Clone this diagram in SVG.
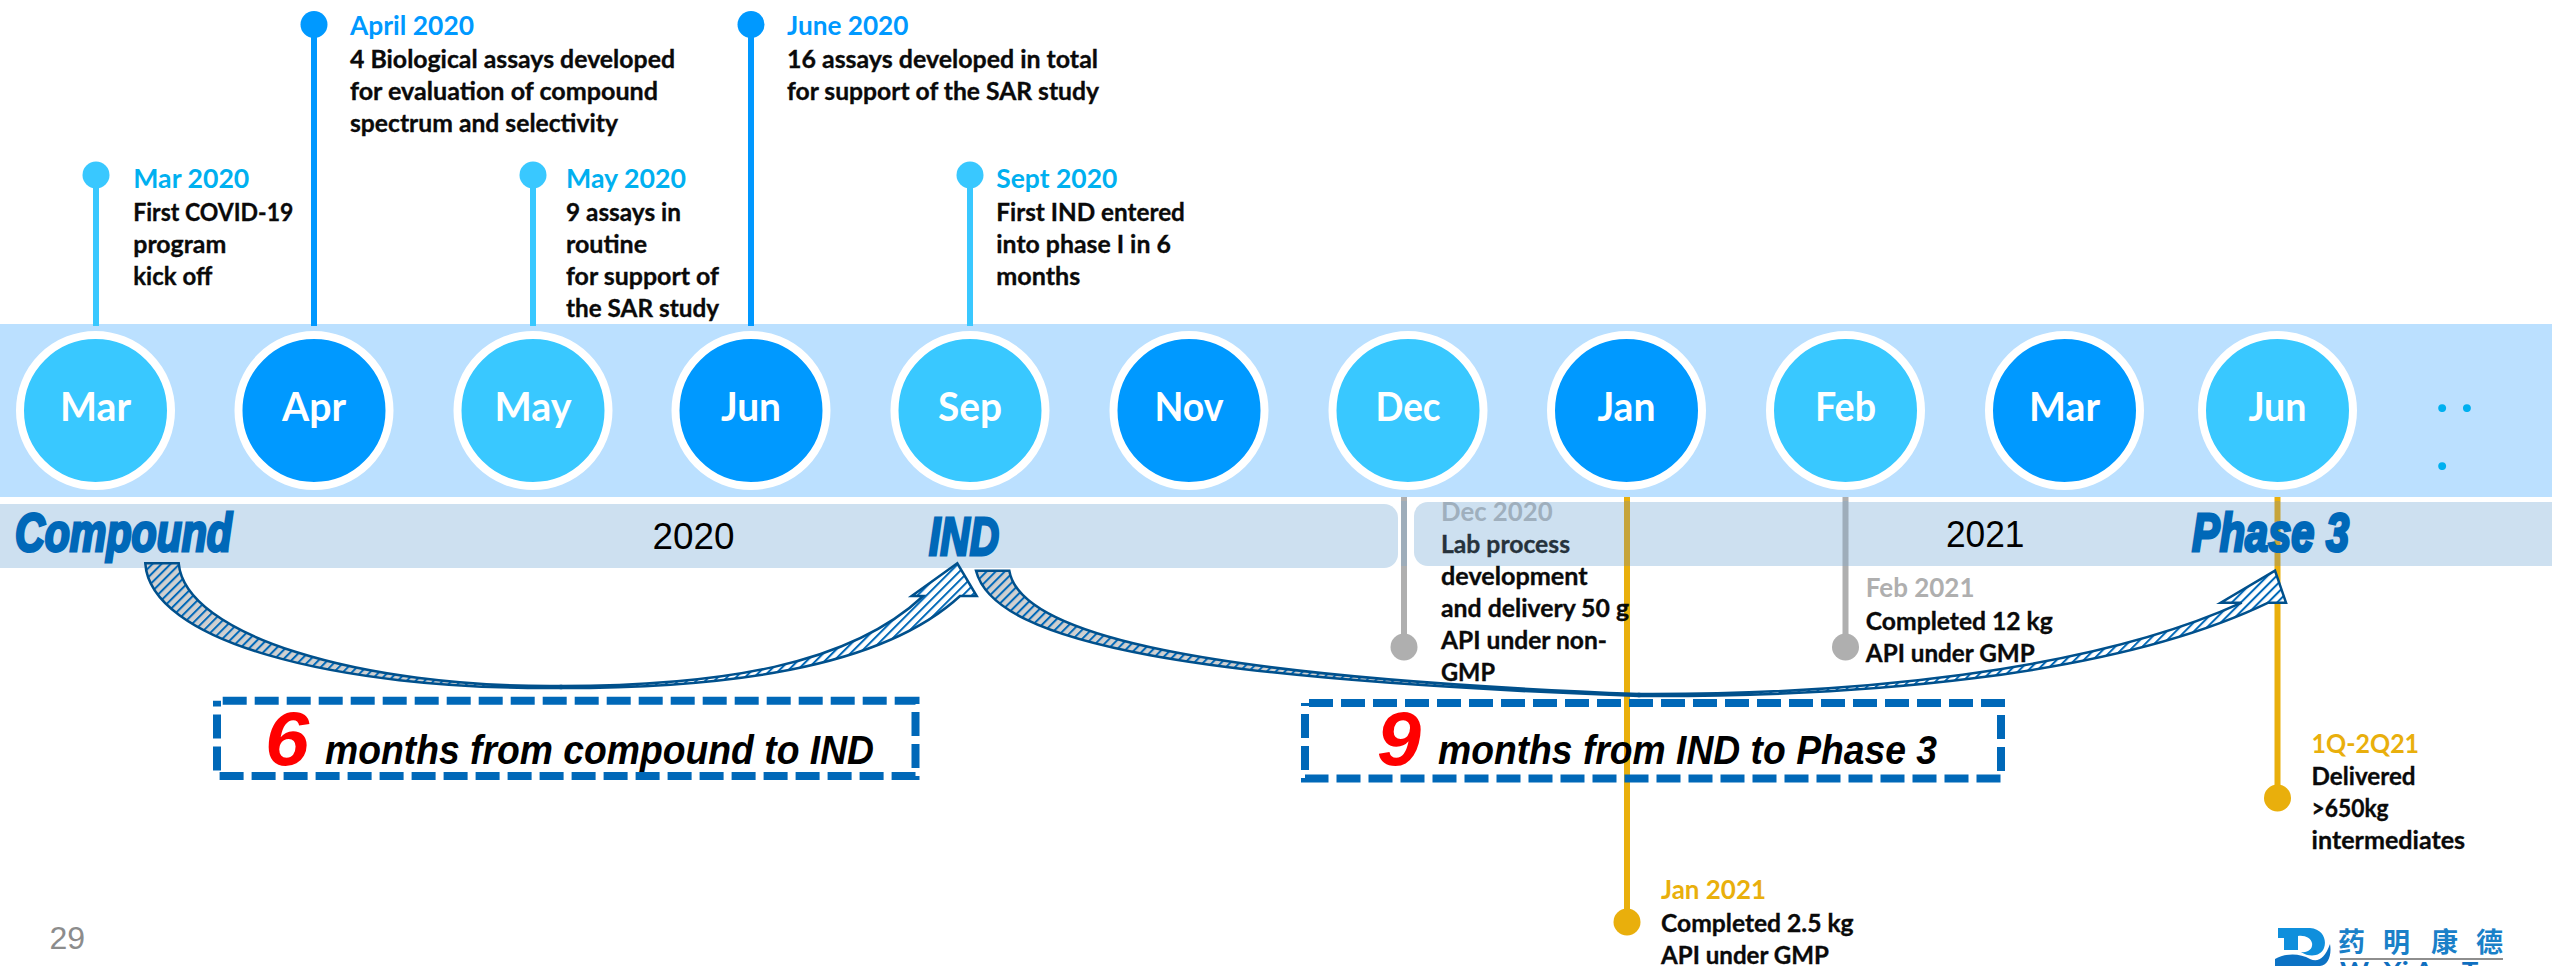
<svg xmlns="http://www.w3.org/2000/svg" width="2552" height="966" viewBox="0 0 2552 966">
<style>
text{font-family:"Lato","Carlito","Liberation Sans",sans-serif;font-weight:700}
.b{font-size:25.5px;fill:#0a0a0a;stroke:#0a0a0a;stroke-width:.35}
.d{font-size:27.5px}
.lt{fill:#00B0F0}.dk{fill:#0099FF}.gy{fill:#AFAFAF}.au{fill:#E9AF0C}
.inb{fill:#26323C;stroke:#26323C}.gyb{fill:#9FAFBD}
.m{font-size:41px;fill:#fff;text-anchor:middle}
.cl{fill:#39C8FF;stroke:#fff;stroke-width:8}.cd{fill:#0099FF;stroke:#fff;stroke-width:8}
.stem{fill:none;stroke-width:6}
.sl{stroke:#39C8FF}.sd{stroke:#0098FF}
.dl{fill:#39C8FF}.dd{fill:#0099FF}.dg{fill:#AFAFAF}.da{fill:#E9AF0C}
.ar{font-family:"Liberation Sans",Arial,sans-serif;font-weight:400}
.yr{font-family:"Liberation Sans",Arial,sans-serif;font-weight:400;font-size:37px;fill:#000}
.ms{font-family:"Liberation Sans",Arial,sans-serif;font-weight:700;font-style:italic;fill:#0068B8;stroke:#0068B8;stroke-width:3}
.big{font-family:"Liberation Sans",Arial,sans-serif;font-weight:700;font-style:italic;font-size:76px;fill:#FF0000}
.cap{font-family:"Liberation Sans",Arial,sans-serif;font-weight:700;font-style:italic;font-size:40px;fill:#000}
.box{fill:none;stroke:#0068B8;stroke-width:8;stroke-dasharray:24 8}
.arrG{fill:url(#hg);stroke:#00508C;stroke-width:2.5;stroke-linejoin:miter}
.arrW{fill:url(#hw);stroke:#00508C;stroke-width:2.5;stroke-linejoin:miter}
</style>
<defs>
<pattern id="hg" width="6.4" height="6.4" patternUnits="userSpaceOnUse" patternTransform="rotate(45)"><rect width="6.4" height="6.4" fill="#D0D0D0"/><rect width="2" height="6.4" fill="#0068B8"/></pattern>
<pattern id="hw" width="6.4" height="6.4" patternUnits="userSpaceOnUse" patternTransform="rotate(45)"><rect width="6.4" height="6.4" fill="#fff"/><rect width="2" height="6.4" fill="#0068B8"/></pattern>
<linearGradient id="sgy" gradientUnits="userSpaceOnUse" x1="0" y1="497" x2="0" y2="570"><stop offset="0.06" stop-color="#AFAFAF"/><stop offset="0.06" stop-color="#9EADBA"/><stop offset="0.95" stop-color="#9EADBA"/><stop offset="0.95" stop-color="#AFAFAF"/></linearGradient>
<linearGradient id="sau" gradientUnits="userSpaceOnUse" x1="0" y1="497" x2="0" y2="570"><stop offset="0.06" stop-color="#E9AF0C"/><stop offset="0.06" stop-color="#C6A43A"/><stop offset="0.95" stop-color="#C6A43A"/><stop offset="0.95" stop-color="#E9AF0C"/></linearGradient>
</defs>

<g id="bands">
<rect x="0" y="324" width="2552" height="173" fill="#BBE0FF"/>
<rect x="-20" y="504" width="1418" height="64" rx="14" fill="#CDE0F0"/>
<rect x="1414" y="502" width="1160" height="64" rx="14" fill="#CDE0F0"/>
</g>

<g id="connectors">
<path class="stem sl" d="M96,175V326"/>
<path class="stem sd" d="M314,24V326"/>
<path class="stem sl" d="M533,175V326"/>
<path class="stem sd" d="M751,24V326"/>
<path class="stem sl" d="M970,175V326"/>
<path class="stem" stroke="url(#sgy)" d="M1404,497V647"/>
<path class="stem" stroke="url(#sau)" d="M1627,497V922"/>
<path class="stem" stroke="url(#sgy)" d="M1845.5,497V647"/>
<path class="stem" stroke="url(#sau)" d="M2277.5,497V798"/>
<path class="arrG" d="M145.3,563.3C150,640 330,690 561,688L561,686C360,688 185,635 178.7,563.3Z"/>
<path class="arrW" d="M561,688C720,688 880,670 960,596H976.7L957.3,563.3L911.7,596H923.3C850,665 720,686 561,686Z"/>
<path class="arrG" d="M976,570.7C995,645 1200,680 1639,696L1639,694C1200,677 1020,635 1009.3,570.7Z"/>
<path class="arrW" d="M1639,696C1850,697 2110,679 2268.3,602.7H2286L2275,570.7L2220.7,602.7H2241.7C2090,672 1850,695 1639,694Z"/>
</g>

<g id="m-mar20"><circle class="cl" cx="95.5" cy="410.5" r="75.5"/><text class="m" x="95.5" y="421" textLength="71" lengthAdjust="spacingAndGlyphs">Mar</text></g>
<g id="m-apr20"><circle class="cd" cx="314" cy="410.5" r="75.5"/><text class="m" x="314" y="421" textLength="64" lengthAdjust="spacingAndGlyphs">Apr</text></g>
<g id="m-may20"><circle class="cl" cx="533" cy="410.5" r="75.5"/><text class="m" x="533" y="421" textLength="77" lengthAdjust="spacingAndGlyphs">May</text></g>
<g id="m-jun20"><circle class="cd" cx="751" cy="410.5" r="75.5"/><text class="m" x="751" y="421" textLength="60" lengthAdjust="spacingAndGlyphs">Jun</text></g>
<g id="m-sep20"><circle class="cl" cx="970" cy="410.5" r="75.5"/><text class="m" x="970" y="421" textLength="64" lengthAdjust="spacingAndGlyphs">Sep</text></g>
<g id="m-nov20"><circle class="cd" cx="1189" cy="410.5" r="75.5"/><text class="m" x="1189" y="421" textLength="69" lengthAdjust="spacingAndGlyphs">Nov</text></g>
<g id="m-dec20"><circle class="cl" cx="1408" cy="410.5" r="75.5"/><text class="m" x="1408" y="421" textLength="65" lengthAdjust="spacingAndGlyphs">Dec</text></g>
<g id="m-jan21"><circle class="cd" cx="1626.5" cy="410.5" r="75.5"/><text class="m" x="1626.5" y="421" textLength="58" lengthAdjust="spacingAndGlyphs">Jan</text></g>
<g id="m-feb21"><circle class="cl" cx="1845.5" cy="410.5" r="75.5"/><text class="m" x="1845.5" y="421" textLength="61" lengthAdjust="spacingAndGlyphs">Feb</text></g>
<g id="m-mar21"><circle class="cd" cx="2064.5" cy="410.5" r="75.5"/><text class="m" x="2064.5" y="421" textLength="71" lengthAdjust="spacingAndGlyphs">Mar</text></g>
<g id="m-jun21"><circle class="cl" cx="2277.5" cy="410.5" r="75.5"/><text class="m" x="2277.5" y="421" textLength="58" lengthAdjust="spacingAndGlyphs">Jun</text></g>

<g id="more"><text class="lt" font-size="52" x="2436 2450 2460.7" y="412">. .</text><text class="lt" font-size="52" x="2436" y="470">.</text></g>

<g id="e-mar20"><circle class="dl" cx="96" cy="175" r="13.5"/>
<text class="d lt" x="133.3" y="187.7" textLength="116" lengthAdjust="spacingAndGlyphs">Mar 2020</text>
<text class="b" x="133.3" y="220.7" textLength="160" lengthAdjust="spacingAndGlyphs">First COVID-19</text>
<text class="b" x="133.3" y="252.7" textLength="93" lengthAdjust="spacingAndGlyphs">program</text>
<text class="b" x="133.3" y="284.7" textLength="79" lengthAdjust="spacingAndGlyphs">kick off</text></g>

<g id="e-apr20"><circle class="dd" cx="314" cy="24.5" r="13.5"/>
<text class="d dk" x="350" y="35" textLength="124" lengthAdjust="spacingAndGlyphs">April 2020</text>
<text class="b" x="350" y="67.7" textLength="325" lengthAdjust="spacingAndGlyphs">4 Biological assays developed</text>
<text class="b" x="350" y="99.7" textLength="308" lengthAdjust="spacingAndGlyphs">for evaluation of compound</text>
<text class="b" x="350" y="131.7" textLength="268" lengthAdjust="spacingAndGlyphs">spectrum and selectivity</text></g>

<g id="e-may20"><circle class="dl" cx="533" cy="175" r="13.5"/>
<text class="d lt" x="566" y="187.7" textLength="120" lengthAdjust="spacingAndGlyphs">May 2020</text>
<text class="b" x="566" y="220.7" textLength="115" lengthAdjust="spacingAndGlyphs">9 assays in</text>
<text class="b" x="566" y="252.7" textLength="81" lengthAdjust="spacingAndGlyphs">routine</text>
<text class="b" x="566" y="284.7" textLength="153" lengthAdjust="spacingAndGlyphs">for support of</text>
<text class="b" x="566" y="316.7" textLength="153" lengthAdjust="spacingAndGlyphs">the SAR study</text></g>

<g id="e-jun20"><circle class="dd" cx="751" cy="24.5" r="13.5"/>
<text class="d dk" x="787" y="35" textLength="121.5" lengthAdjust="spacingAndGlyphs">June 2020</text>
<text class="b" x="787" y="67.7" textLength="311" lengthAdjust="spacingAndGlyphs">16 assays developed in total</text>
<text class="b" x="787" y="99.7" textLength="312" lengthAdjust="spacingAndGlyphs">for support of the SAR study</text></g>

<g id="e-sep20"><circle class="dl" cx="970" cy="175" r="13.5"/>
<text class="d lt" x="996.3" y="187.7" textLength="121" lengthAdjust="spacingAndGlyphs">Sept 2020</text>
<text class="b" x="996.3" y="220.7" textLength="188.6" lengthAdjust="spacingAndGlyphs">First IND entered</text>
<text class="b" x="996.3" y="252.7" textLength="174.5" lengthAdjust="spacingAndGlyphs">into phase I in 6</text>
<text class="b" x="996.3" y="284.7" textLength="84" lengthAdjust="spacingAndGlyphs">months</text></g>

<g id="e-dec20"><circle class="dg" cx="1404" cy="647" r="13.5"/>
<text class="d gyb" x="1441" y="520.7" textLength="111.6" lengthAdjust="spacingAndGlyphs">Dec 2020</text>
<text class="b inb" x="1441" y="553.3" textLength="129" lengthAdjust="spacingAndGlyphs">Lab process</text>
<text class="b" x="1441" y="585.3" textLength="146.7" lengthAdjust="spacingAndGlyphs">development</text>
<text class="b" x="1441" y="617.3" textLength="188" lengthAdjust="spacingAndGlyphs">and delivery 50 g</text>
<text class="b" x="1441" y="649.3" textLength="166" lengthAdjust="spacingAndGlyphs">API under non-</text>
<text class="b" x="1441" y="681.3" textLength="54" lengthAdjust="spacingAndGlyphs">GMP</text></g>

<g id="e-jan21"><circle class="da" cx="1627" cy="922" r="13.5"/>
<text class="d au" x="1661" y="899" textLength="105" lengthAdjust="spacingAndGlyphs">Jan 2021</text>
<text class="b" x="1661" y="932" textLength="192.6" lengthAdjust="spacingAndGlyphs">Completed 2.5 kg</text>
<text class="b" x="1661" y="964" textLength="168" lengthAdjust="spacingAndGlyphs">API under GMP</text></g>

<g id="e-feb21"><circle class="dg" cx="1845.5" cy="647" r="13.5"/>
<text class="d gy" x="1865.8" y="596.7" textLength="108.7" lengthAdjust="spacingAndGlyphs">Feb 2021</text>
<text class="b" x="1865.8" y="630" textLength="187" lengthAdjust="spacingAndGlyphs">Completed 12 kg</text>
<text class="b" x="1865.8" y="662" textLength="169" lengthAdjust="spacingAndGlyphs">API under GMP</text></g>

<g id="e-jun21"><circle class="da" cx="2277.5" cy="798" r="13.5"/>
<text class="d au" x="2311.6" y="752.7" textLength="107.5" lengthAdjust="spacingAndGlyphs">1Q-2Q21</text>
<text class="b" x="2311.6" y="785" textLength="104" lengthAdjust="spacingAndGlyphs">Delivered</text>
<text class="b" x="2311.6" y="817" textLength="77" lengthAdjust="spacingAndGlyphs">&gt;650kg</text>
<text class="b" x="2311.6" y="849" textLength="153.5" lengthAdjust="spacingAndGlyphs">intermediates</text></g>

<g id="year-labels">
<text class="yr" x="652.4" y="549.3" textLength="82" lengthAdjust="spacingAndGlyphs">2020</text>
<text class="yr" x="1946" y="547.3" textLength="78.5" lengthAdjust="spacingAndGlyphs">2021</text>
</g>

<g id="milestones">
<text class="ms" font-size="53" x="15" y="551" textLength="217" lengthAdjust="spacingAndGlyphs">Compound</text>
<text class="ms" font-size="53" x="929" y="555" textLength="70" lengthAdjust="spacingAndGlyphs">IND</text>
<text class="ms" font-size="53" x="2192" y="551" textLength="157" lengthAdjust="spacingAndGlyphs">Phase 3</text>
</g>

<g id="box-6">
<path class="box" d="M222.7,700.7H915.5V776H217V700.7"/>
<text class="big" x="265" y="765" textLength="44" lengthAdjust="spacingAndGlyphs">6</text>
<text class="cap" x="325" y="764" textLength="549" lengthAdjust="spacingAndGlyphs">months from compound to IND</text>
</g>
<g id="box-9">
<path class="box" d="M1309,703H2001V778.5H1305V703"/>
<text class="big" x="1377" y="765" textLength="44" lengthAdjust="spacingAndGlyphs">9</text>
<text class="cap" x="1438" y="764" textLength="499" lengthAdjust="spacingAndGlyphs">months from IND to Phase 3</text>
</g>

<text id="page" class="ar" x="49.5" y="949" font-size="32" fill="#8C8C8C">29</text>

<g id="logo">
<path fill="#0F8FDC" d="M2278,928H2310C2323,929 2327,940 2324,948C2321,956 2310,958 2301,952C2309,953 2313,948 2312,943C2311,938 2305,935 2298,936V950H2284V938H2278Z"/>
<path fill="#0C72C4" d="M2275,959C2285,953 2300,953 2310,959C2318,963 2325,958 2330,944C2332,955 2328,966 2320,966H2275Z"/>
<text x="2338" y="952" font-size="27" fill="#1A80C8" style="font-family:'Noto Sans CJK SC',sans-serif">药</text>
<text x="2383" y="952" font-size="27" fill="#1A80C8" style="font-family:'Noto Sans CJK SC',sans-serif">明</text>
<text x="2431" y="952" font-size="27" fill="#1A80C8" style="font-family:'Noto Sans CJK SC',sans-serif">康</text>
<text x="2476" y="952" font-size="27" fill="#1A80C8" style="font-family:'Noto Sans CJK SC',sans-serif">德</text>
<rect x="2340" y="958" width="163" height="2" fill="#8E8E8E"/>
<text x="2340" y="980" font-size="25" fill="#0F6FC0" textLength="163" lengthAdjust="spacingAndGlyphs">WuXi AppTec</text>
</g>
</svg>
